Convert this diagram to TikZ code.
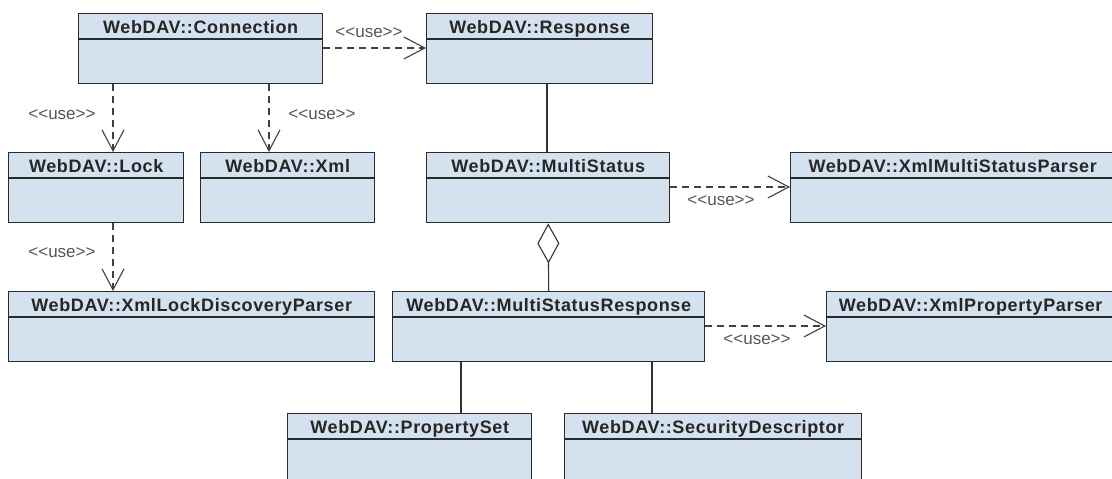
\documentclass[tikz,border=0pt]{standalone}
\usepackage{fontspec}
\setmainfont{Liberation Sans}
\newfontfamily\titlefont{Liberation Sans}[LetterSpace=3.5]
\usetikzlibrary{arrows.meta}
\definecolor{clsfill}{HTML}{D4E2F0}
\definecolor{clsdraw}{HTML}{2B2B2B}
\definecolor{lblgray}{HTML}{555555}
\newcommand\umlclass[6]{%
  \node[clsbox, minimum width=#4pt, minimum height=#5pt, anchor=north west] (#1) at (#2,#3) {};
  \draw[clsline] ([yshift=-26pt]#1.north west) -- ([yshift=-26pt]#1.north east);
  \node[clstitle] (#1-title) at ([yshift=-20pt]#1.north) {#6};
}
\newcommand\uselbl{<\kern0pt<use>\kern0pt>}
\begin{document}
\begin{tikzpicture}[x=1pt,y=-1pt,
  clsbox/.style={draw=clsdraw, fill=clsfill, line width=1.4pt, rectangle, inner sep=0pt},
  clsline/.style={draw=clsdraw, line width=1.4pt},
  clstitle/.style={font=\titlefont\fontsize{18}{20}\selectfont\bfseries, text=black!85, inner sep=0pt, anchor=base},
  dep/.style={draw=black!75, line width=1.1pt, dash pattern=on 7pt off 5pt, -{Straight Barb[length=21pt,width=22pt,line width=1.1pt]}},
  assoc/.style={draw=black!80, line width=1.1pt},
  agg/.style={assoc, {Diamond[open,length=40pt,width=22pt,line width=1.1pt]}-},
  lbl/.style={font=\fontsize{17}{19}\selectfont, text=lblgray, inner sep=0pt}
]
\useasboundingbox (0,0) rectangle (1112,479);
\clip (0,0) rectangle (1112,479);

\umlclass{conn}{78}{13}{244}{70}{WebDAV::Connection}
\umlclass{resp}{426}{13}{226}{70}{WebDAV::Response}
\umlclass{lock}{8}{152}{175}{70}{WebDAV::Lock}
\umlclass{xml}{200}{152}{174}{70}{WebDAV::Xml}
\umlclass{ms}{426}{152}{243}{70}{WebDAV::MultiStatus}
\umlclass{xmsp}{790}{152}{324}{70}{WebDAV::XmlMultiStatusParser}
\umlclass{xldp}{8}{291}{366}{70}{WebDAV::XmlLockDiscoveryParser}
\umlclass{msr}{392}{291}{312}{70}{WebDAV::MultiStatusResponse}
\umlclass{xpp}{826}{291}{288}{70}{WebDAV::XmlPropertyParser}
\umlclass{ps}{287}{413}{244}{72}{WebDAV::PropertySet}
\umlclass{sd}{564}{413}{297}{72}{WebDAV::SecurityDescriptor}

% dependencies
\draw[dep] ([yshift=-35pt]conn.north east) coordinate (c1) -- (c1 -| resp.west);
\draw[dep] ([xshift=35pt]conn.south west) coordinate (c2) -- (c2 |- lock.north);
\draw[dep] ([xshift=191pt]conn.south west) coordinate (c3) -- (c3 |- xml.north);
\draw[dep] ([xshift=105pt]lock.south west) coordinate (c4) -- (c4 |- xldp.north);
\draw[dep] ([yshift=-35pt]ms.north east) coordinate (c5) -- (c5 -| xmsp.west);
\draw[dep] ([yshift=-35pt]msr.north east) coordinate (c6) -- (c6 -| xpp.west);

% associations
\draw[assoc] ([xshift=121pt]resp.south west) coordinate (c7) -- (c7 |- ms.north);
\draw[agg] (ms.south) -- (msr.north);
\draw[assoc] ([xshift=69pt]msr.south west) coordinate (c8) -- (c8 |- ps.north);
\draw[assoc] ([xshift=260pt]msr.south west) coordinate (c9) -- (c9 |- sd.north);

% labels
\node[lbl] (l1) at (369,33) {\uselbl};
\node[lbl] (l2) at (62,115) {\uselbl};
\node[lbl] (l3) at (322,115) {\uselbl};
\node[lbl] (l4) at (62,253) {\uselbl};
\node[lbl] (l5) at (721,201) {\uselbl};
\node[lbl] (l6) at (757,340) {\uselbl};
\end{tikzpicture}
\end{document}
